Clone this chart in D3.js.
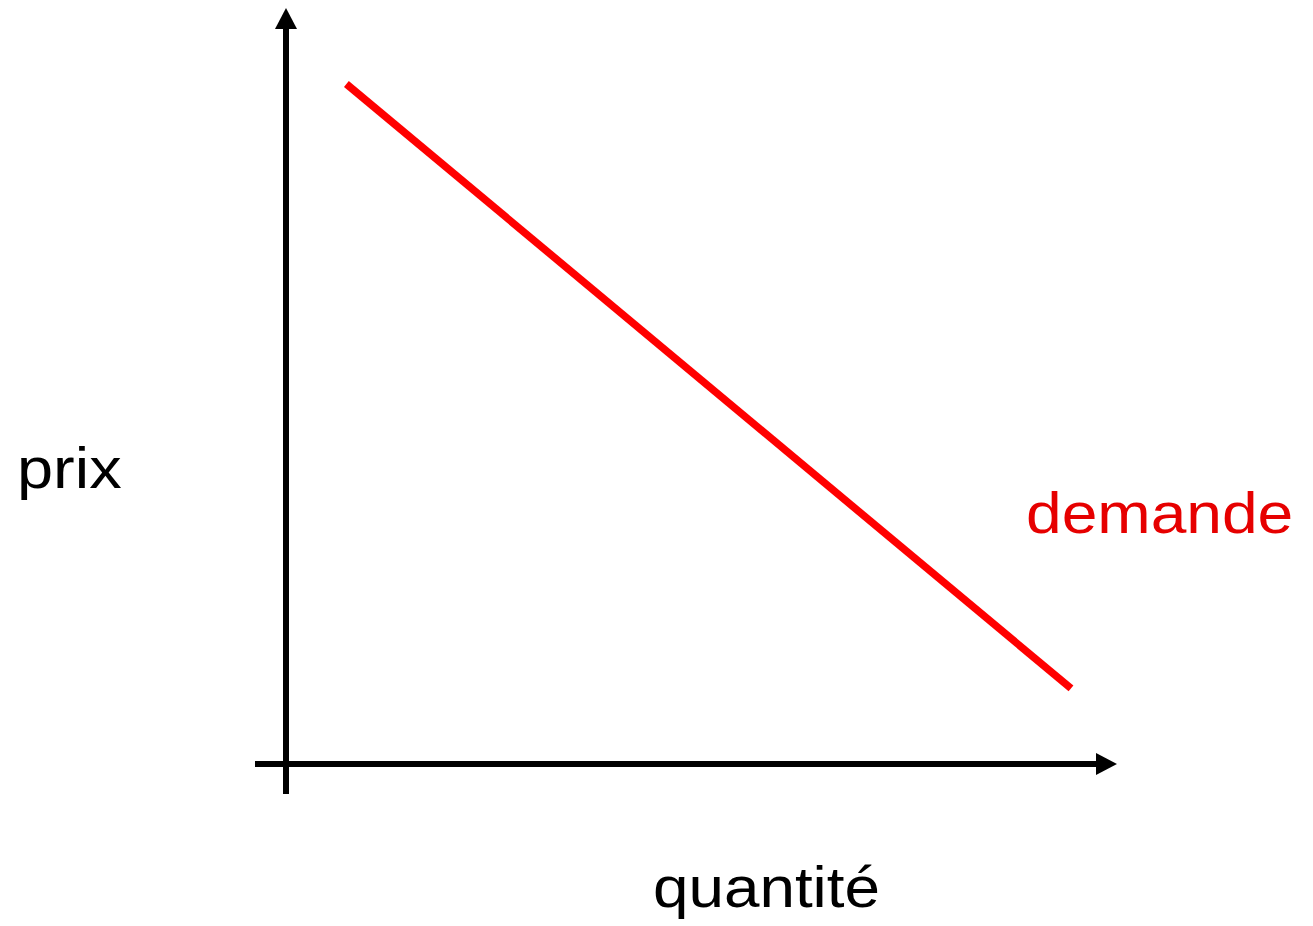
<!DOCTYPE html>
<html>
<head>
<meta charset="utf-8">
<script src="https://cdn.jsdelivr.net/npm/d3@7"></script>
<style>
  html, body { margin: 0; padding: 0; background: #fff; }
  svg { display: block; }
</style>
</head>
<body>
<svg id="chart" width="1313" height="926"></svg>
<script>
// Data
const quantities = [1, 13];
const prices = [9, 1];
const seriesName = "demande";
const xAxisLabel = "quantité";
const yAxisLabel = "prix";

const svg = d3.select("#chart");
const x = d3.scaleLinear().domain([0, 13]).range([286, 1071]);
const y = d3.scaleLinear().domain([0, 9]).range([764, 84]);

// axis extents
const xMin = x.invert(255), xTip = x.invert(1117), xBase = x.invert(1096);
const yMin = y.invert(794), yTip = y.invert(8), yBase = y.invert(29);

// X axis
svg.append("line")
  .attr("x1", x(xMin)).attr("x2", x(xBase))
  .attr("y1", y(0)).attr("y2", y(0))
  .attr("stroke", "#000").attr("stroke-width", 6);
svg.append("path")
  .attr("d", `M${x(xBase)},${y(0) - 11}L${x(xTip)},${y(0)}L${x(xBase)},${y(0) + 11}Z`)
  .attr("fill", "#000");

// Y axis
svg.append("line")
  .attr("x1", x(0)).attr("x2", x(0))
  .attr("y1", y(yMin)).attr("y2", y(yBase))
  .attr("stroke", "#000").attr("stroke-width", 6);
svg.append("path")
  .attr("d", `M${x(0) - 11},${y(yBase)}L${x(0)},${y(yTip)}L${x(0) + 11},${y(yBase)}Z`)
  .attr("fill", "#000");

// Demand line
const pts = quantities.map((q, i) => [q, prices[i]]);
svg.append("path")
  .datum(pts)
  .attr("d", d3.line().x(d => x(d[0])).y(d => y(d[1])))
  .attr("fill", "none")
  .attr("stroke", "#ff0000")
  .attr("stroke-width", 7.5);

const font = "'Liberation Sans', Arial, sans-serif";
function label(tx, ty, txt, color, sx) {
  svg.append("text")
    .attr("transform", `translate(${tx},${ty}) scale(${sx},1)`)
    .attr("font-family", font).attr("font-size", 58)
    .attr("fill", color)
    .text(txt);
}
label(17, 488, yAxisLabel, "#000", 1.12);
label(653, 907, xAxisLabel, "#000", 1.1);
label(1026, 533, seriesName, "#e60000", 1.105);
</script>
</body>
</html>
